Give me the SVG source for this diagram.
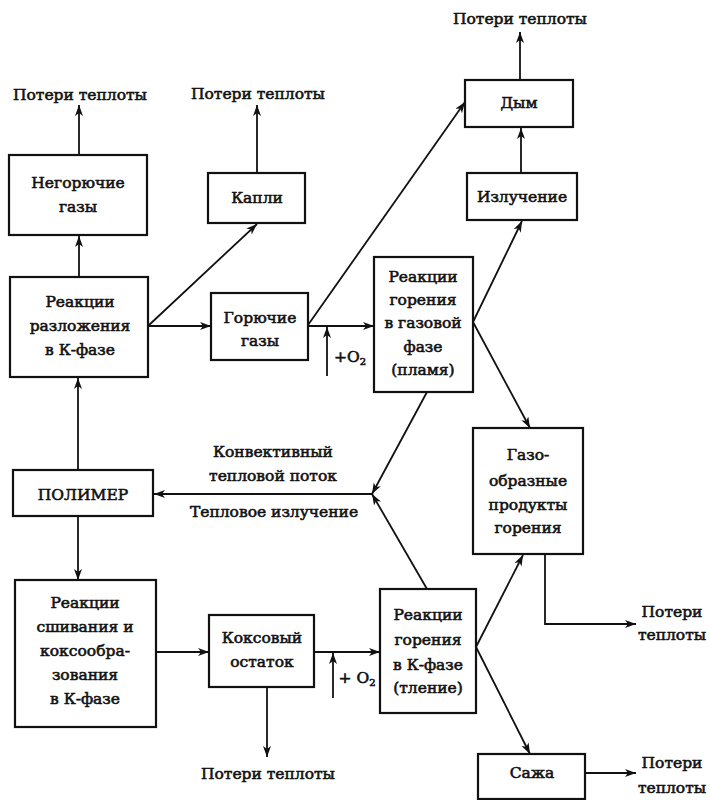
<svg xmlns="http://www.w3.org/2000/svg" width="710" height="800" viewBox="0 0 710 800">
<defs>
<marker id="ah" markerUnits="userSpaceOnUse" markerWidth="12" markerHeight="10" refX="11" refY="4" orient="auto">
<path d="M0,0 L11,4 L0,8 L3,4 Z" fill="#111"/>
</marker>
<style>
.b{fill:#fff;stroke:#111;stroke-width:2.2}
.t{font-family:'DejaVu Serif','Liberation Serif',serif;font-size:15.5px;font-weight:normal;fill:#111;stroke:#111;stroke-width:0.6;text-anchor:middle}
.c{fill:none;stroke:#111;stroke-width:1.8}
.a{marker-end:url(#ah)}
</style>
</defs>
<rect width="710" height="800" fill="#fff"/>
<g id="connectors">
<line class="c a" x1="79" y1="277" x2="79" y2="236"/>
<line class="c a" x1="79" y1="155" x2="79" y2="105"/>
<line class="c a" x1="257" y1="173" x2="257" y2="105"/>
<line class="c a" x1="148" y1="326" x2="257" y2="224"/>
<line class="c a" x1="148" y1="326" x2="211" y2="326"/>
<line class="c a" x1="308" y1="325" x2="465" y2="102"/>
<line class="c a" x1="308" y1="326" x2="374" y2="326"/>
<line class="c a" x1="327" y1="376" x2="327" y2="327"/>
<line class="c a" x1="473" y1="322" x2="522" y2="221"/>
<line class="c a" x1="473" y1="322" x2="530" y2="428"/>
<line class="c a" x1="521" y1="173" x2="521" y2="128"/>
<line class="c a" x1="520" y1="80" x2="520" y2="32"/>
<line class="c a" x1="427" y1="392" x2="372" y2="494"/>
<line class="c a" x1="372" y1="494" x2="154" y2="494"/>
<line class="c a" x1="427" y1="589" x2="372" y2="494"/>
<line class="c a" x1="78" y1="470" x2="78" y2="378"/>
<line class="c a" x1="78" y1="516" x2="78" y2="580"/>
<line class="c a" x1="156" y1="652" x2="209" y2="652"/>
<line class="c a" x1="314" y1="652" x2="380" y2="652"/>
<line class="c a" x1="333" y1="698" x2="333" y2="653"/>
<line class="c a" x1="267" y1="687" x2="267" y2="757"/>
<line class="c a" x1="476" y1="647" x2="523" y2="555"/>
<line class="c a" x1="476" y1="647" x2="530" y2="754"/>
<polyline class="c a" points="545,554 545,624 636,624"/>
<line class="c a" x1="585" y1="773" x2="636" y2="773"/>
</g>
<g id="labels">
<text class="t" x="80" y="100">Потери теплоты</text>
<text class="t" x="258" y="99">Потери теплоты</text>
<text class="t" x="520" y="24">Потери теплоты</text>
<text class="t" x="268" y="779">Потери теплоты</text>
<text class="t" x="672" y="617">Потери</text>
<text class="t" x="672" y="640">теплоты</text>
<text class="t" x="672" y="768">Потери</text>
<text class="t" x="672" y="793">теплоты</text>
<text class="t" x="273" y="457">Конвективный</text>
<text class="t" x="273" y="481">тепловой поток</text>
<text class="t" x="274" y="517">Тепловое излучение</text>
<text class="t" x="350" y="362">+O<tspan font-size="10" dy="3">2</tspan></text>
<text class="t" x="357" y="683">+ O<tspan font-size="10" dy="3">2</tspan></text>
</g>
<g id="n_negor">
<rect class="b" x="9" y="155" width="138" height="80"/>
<text class="t" x="78" y="188">Негорючие</text>
<text class="t" x="78" y="212">газы</text>
</g>
<g id="n_kapli">
<rect class="b" x="208" y="173" width="97" height="50"/>
<text class="t" x="257" y="203">Капли</text>
</g>
<g id="n_razl">
<rect class="b" x="10" y="277" width="138" height="100"/>
<text class="t" x="80" y="307">Реакции</text>
<text class="t" x="80" y="331">разложения</text>
<text class="t" x="80" y="355">в К-фазе</text>
</g>
<g id="n_goruch">
<rect class="b" x="211" y="293" width="97" height="67"/>
<text class="t" x="260" y="323">Горючие</text>
<text class="t" x="260" y="346">газы</text>
</g>
<g id="n_dym">
<rect class="b" x="465" y="80" width="108" height="47"/>
<text class="t" x="519" y="108">Дым</text>
</g>
<g id="n_izl">
<rect class="b" x="467" y="173" width="110" height="47"/>
<text class="t" x="522" y="202">Излучение</text>
</g>
<g id="n_flame">
<rect class="b" x="374" y="257" width="99" height="135"/>
<text class="t" x="423" y="282">Реакции</text>
<text class="t" x="423" y="305">горения</text>
<text class="t" x="423" y="328">в газовой</text>
<text class="t" x="423" y="352">фазе</text>
<text class="t" x="423" y="375">(пламя)</text>
</g>
<g id="n_gazoobr">
<rect class="b" x="473" y="428" width="110" height="126"/>
<text class="t" x="528" y="460">Газо-</text>
<text class="t" x="528" y="486">образные</text>
<text class="t" x="528" y="510">продукты</text>
<text class="t" x="528" y="533">горения</text>
</g>
<g id="n_polimer">
<rect class="b" x="13" y="470" width="140" height="46"/>
<text class="t" x="83" y="500">ПОЛИМЕР</text>
</g>
<g id="n_sshiv">
<rect class="b" x="15" y="580" width="141" height="147"/>
<text class="t" x="85" y="608">Реакции</text>
<text class="t" x="85" y="632">сшивания и</text>
<text class="t" x="85" y="656">коксообра-</text>
<text class="t" x="85" y="680">зования</text>
<text class="t" x="85" y="704">в К-фазе</text>
</g>
<g id="n_koks">
<rect class="b" x="209" y="615" width="105" height="72"/>
<text class="t" x="262" y="643">Коксовый</text>
<text class="t" x="262" y="667">остаток</text>
</g>
<g id="n_tlenie">
<rect class="b" x="380" y="589" width="96" height="124"/>
<text class="t" x="428" y="620">Реакции</text>
<text class="t" x="428" y="645">горения</text>
<text class="t" x="428" y="670">в К-фазе</text>
<text class="t" x="428" y="693">(тление)</text>
</g>
<g id="n_sazha">
<rect class="b" x="478" y="754" width="107" height="45"/>
<text class="t" x="532" y="778">Сажа</text>
</g>
</svg>
